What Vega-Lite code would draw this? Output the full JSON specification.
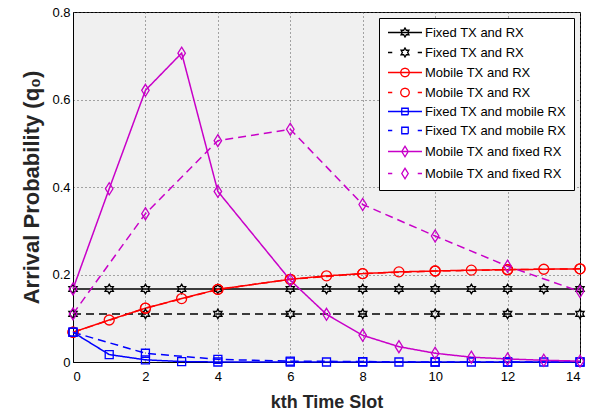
{
  "$schema": "https://vega.github.io/schema/vega-lite/v6.json",
  "width": 507,
  "height": 350,
  "autosize": {"type": "none"},
  "padding": {"left": 73, "top": 12, "right": 20, "bottom": 55},
  "background": "white",
  "config": {
    "view": {"fill": "#f0f0f0", "stroke": "black", "strokeWidth": 1},
    "axis": {
      "domainColor": "black",
      "domainWidth": 1,
      "ticks": false,
      "labelFont": "Liberation Sans",
      "labelFontSize": 13,
      "labelColor": "black",
      "titleFont": "Liberation Sans",
      "titleFontWeight": "bold",
      "titleColor": "#262626",
      "gridColor": "#555555",
      "gridDash": [1, 3],
      "gridWidth": 1,
      "gridOpacity": 1
    }
  },
  "data": {
    "values": [
      {"s": "1 Fixed TX and RX", "g": "Fixed TX and RX", "v": "A", "x": 0, "y": 0.167},
      {"s": "1 Fixed TX and RX", "g": "Fixed TX and RX", "v": "A", "x": 1, "y": 0.167},
      {"s": "1 Fixed TX and RX", "g": "Fixed TX and RX", "v": "A", "x": 2, "y": 0.167},
      {"s": "1 Fixed TX and RX", "g": "Fixed TX and RX", "v": "A", "x": 3, "y": 0.167},
      {"s": "1 Fixed TX and RX", "g": "Fixed TX and RX", "v": "A", "x": 4, "y": 0.167},
      {"s": "1 Fixed TX and RX", "g": "Fixed TX and RX", "v": "A", "x": 6, "y": 0.167},
      {"s": "1 Fixed TX and RX", "g": "Fixed TX and RX", "v": "A", "x": 7, "y": 0.167},
      {"s": "1 Fixed TX and RX", "g": "Fixed TX and RX", "v": "A", "x": 8, "y": 0.167},
      {"s": "1 Fixed TX and RX", "g": "Fixed TX and RX", "v": "A", "x": 9, "y": 0.167},
      {"s": "1 Fixed TX and RX", "g": "Fixed TX and RX", "v": "A", "x": 10, "y": 0.167},
      {"s": "1 Fixed TX and RX", "g": "Fixed TX and RX", "v": "A", "x": 11, "y": 0.167},
      {"s": "1 Fixed TX and RX", "g": "Fixed TX and RX", "v": "A", "x": 12, "y": 0.167},
      {"s": "1 Fixed TX and RX", "g": "Fixed TX and RX", "v": "A", "x": 13, "y": 0.167},
      {"s": "1 Fixed TX and RX", "g": "Fixed TX and RX", "v": "A", "x": 14, "y": 0.167},
      {"s": "2 Fixed TX and RX", "g": "Fixed TX and RX", "v": "B", "x": 0, "y": 0.11},
      {"s": "2 Fixed TX and RX", "g": "Fixed TX and RX", "v": "B", "x": 2, "y": 0.11},
      {"s": "2 Fixed TX and RX", "g": "Fixed TX and RX", "v": "B", "x": 4, "y": 0.11},
      {"s": "2 Fixed TX and RX", "g": "Fixed TX and RX", "v": "B", "x": 6, "y": 0.11},
      {"s": "2 Fixed TX and RX", "g": "Fixed TX and RX", "v": "B", "x": 8, "y": 0.11},
      {"s": "2 Fixed TX and RX", "g": "Fixed TX and RX", "v": "B", "x": 10, "y": 0.11},
      {"s": "2 Fixed TX and RX", "g": "Fixed TX and RX", "v": "B", "x": 12, "y": 0.11},
      {"s": "2 Fixed TX and RX", "g": "Fixed TX and RX", "v": "B", "x": 14, "y": 0.11},
      {"s": "3 Mobile TX and RX", "g": "Mobile TX and RX", "v": "A", "x": 0, "y": 0.068},
      {"s": "3 Mobile TX and RX", "g": "Mobile TX and RX", "v": "A", "x": 1, "y": 0.096},
      {"s": "3 Mobile TX and RX", "g": "Mobile TX and RX", "v": "A", "x": 2, "y": 0.123},
      {"s": "3 Mobile TX and RX", "g": "Mobile TX and RX", "v": "A", "x": 3, "y": 0.145},
      {"s": "3 Mobile TX and RX", "g": "Mobile TX and RX", "v": "A", "x": 4, "y": 0.166},
      {"s": "3 Mobile TX and RX", "g": "Mobile TX and RX", "v": "A", "x": 6, "y": 0.189},
      {"s": "3 Mobile TX and RX", "g": "Mobile TX and RX", "v": "A", "x": 7, "y": 0.197},
      {"s": "3 Mobile TX and RX", "g": "Mobile TX and RX", "v": "A", "x": 8, "y": 0.202},
      {"s": "3 Mobile TX and RX", "g": "Mobile TX and RX", "v": "A", "x": 9, "y": 0.206},
      {"s": "3 Mobile TX and RX", "g": "Mobile TX and RX", "v": "A", "x": 10, "y": 0.208},
      {"s": "3 Mobile TX and RX", "g": "Mobile TX and RX", "v": "A", "x": 11, "y": 0.21},
      {"s": "3 Mobile TX and RX", "g": "Mobile TX and RX", "v": "A", "x": 12, "y": 0.211},
      {"s": "3 Mobile TX and RX", "g": "Mobile TX and RX", "v": "A", "x": 13, "y": 0.212},
      {"s": "3 Mobile TX and RX", "g": "Mobile TX and RX", "v": "A", "x": 14, "y": 0.213},
      {"s": "4 Mobile TX and RX", "g": "Mobile TX and RX", "v": "B", "x": 0, "y": 0.068},
      {"s": "4 Mobile TX and RX", "g": "Mobile TX and RX", "v": "B", "x": 2, "y": 0.123},
      {"s": "4 Mobile TX and RX", "g": "Mobile TX and RX", "v": "B", "x": 4, "y": 0.166},
      {"s": "4 Mobile TX and RX", "g": "Mobile TX and RX", "v": "B", "x": 6, "y": 0.189},
      {"s": "4 Mobile TX and RX", "g": "Mobile TX and RX", "v": "B", "x": 8, "y": 0.202},
      {"s": "4 Mobile TX and RX", "g": "Mobile TX and RX", "v": "B", "x": 10, "y": 0.208},
      {"s": "4 Mobile TX and RX", "g": "Mobile TX and RX", "v": "B", "x": 12, "y": 0.211},
      {"s": "4 Mobile TX and RX", "g": "Mobile TX and RX", "v": "B", "x": 14, "y": 0.213},
      {"s": "5 Fixed TX and mobile RX", "g": "Fixed TX and mobile RX", "v": "A", "x": 0, "y": 0.068},
      {"s": "5 Fixed TX and mobile RX", "g": "Fixed TX and mobile RX", "v": "A", "x": 1, "y": 0.017},
      {"s": "5 Fixed TX and mobile RX", "g": "Fixed TX and mobile RX", "v": "A", "x": 2, "y": 0.005},
      {"s": "5 Fixed TX and mobile RX", "g": "Fixed TX and mobile RX", "v": "A", "x": 3, "y": 0.001},
      {"s": "5 Fixed TX and mobile RX", "g": "Fixed TX and mobile RX", "v": "A", "x": 4, "y": 0.0},
      {"s": "5 Fixed TX and mobile RX", "g": "Fixed TX and mobile RX", "v": "A", "x": 6, "y": 0.0},
      {"s": "5 Fixed TX and mobile RX", "g": "Fixed TX and mobile RX", "v": "A", "x": 7, "y": 0.0},
      {"s": "5 Fixed TX and mobile RX", "g": "Fixed TX and mobile RX", "v": "A", "x": 8, "y": 0.0},
      {"s": "5 Fixed TX and mobile RX", "g": "Fixed TX and mobile RX", "v": "A", "x": 9, "y": 0.0},
      {"s": "5 Fixed TX and mobile RX", "g": "Fixed TX and mobile RX", "v": "A", "x": 10, "y": 0.0},
      {"s": "5 Fixed TX and mobile RX", "g": "Fixed TX and mobile RX", "v": "A", "x": 11, "y": 0.0},
      {"s": "5 Fixed TX and mobile RX", "g": "Fixed TX and mobile RX", "v": "A", "x": 12, "y": 0.0},
      {"s": "5 Fixed TX and mobile RX", "g": "Fixed TX and mobile RX", "v": "A", "x": 13, "y": 0.0},
      {"s": "5 Fixed TX and mobile RX", "g": "Fixed TX and mobile RX", "v": "A", "x": 14, "y": 0.0},
      {"s": "6 Fixed TX and mobile RX", "g": "Fixed TX and mobile RX", "v": "B", "x": 0, "y": 0.068},
      {"s": "6 Fixed TX and mobile RX", "g": "Fixed TX and mobile RX", "v": "B", "x": 2, "y": 0.02},
      {"s": "6 Fixed TX and mobile RX", "g": "Fixed TX and mobile RX", "v": "B", "x": 4, "y": 0.006},
      {"s": "6 Fixed TX and mobile RX", "g": "Fixed TX and mobile RX", "v": "B", "x": 6, "y": 0.002},
      {"s": "6 Fixed TX and mobile RX", "g": "Fixed TX and mobile RX", "v": "B", "x": 8, "y": 0.001},
      {"s": "6 Fixed TX and mobile RX", "g": "Fixed TX and mobile RX", "v": "B", "x": 10, "y": 0.0},
      {"s": "6 Fixed TX and mobile RX", "g": "Fixed TX and mobile RX", "v": "B", "x": 12, "y": 0.0},
      {"s": "6 Fixed TX and mobile RX", "g": "Fixed TX and mobile RX", "v": "B", "x": 14, "y": 0.0},
      {"s": "7 Mobile TX and fixed RX", "g": "Mobile TX and fixed RX", "v": "A", "x": 0, "y": 0.167},
      {"s": "7 Mobile TX and fixed RX", "g": "Mobile TX and fixed RX", "v": "A", "x": 1, "y": 0.396},
      {"s": "7 Mobile TX and fixed RX", "g": "Mobile TX and fixed RX", "v": "A", "x": 2, "y": 0.621},
      {"s": "7 Mobile TX and fixed RX", "g": "Mobile TX and fixed RX", "v": "A", "x": 3, "y": 0.706},
      {"s": "7 Mobile TX and fixed RX", "g": "Mobile TX and fixed RX", "v": "A", "x": 4, "y": 0.39},
      {"s": "7 Mobile TX and fixed RX", "g": "Mobile TX and fixed RX", "v": "A", "x": 6, "y": 0.187},
      {"s": "7 Mobile TX and fixed RX", "g": "Mobile TX and fixed RX", "v": "A", "x": 7, "y": 0.109},
      {"s": "7 Mobile TX and fixed RX", "g": "Mobile TX and fixed RX", "v": "A", "x": 8, "y": 0.061},
      {"s": "7 Mobile TX and fixed RX", "g": "Mobile TX and fixed RX", "v": "A", "x": 9, "y": 0.035},
      {"s": "7 Mobile TX and fixed RX", "g": "Mobile TX and fixed RX", "v": "A", "x": 10, "y": 0.02},
      {"s": "7 Mobile TX and fixed RX", "g": "Mobile TX and fixed RX", "v": "A", "x": 11, "y": 0.011},
      {"s": "7 Mobile TX and fixed RX", "g": "Mobile TX and fixed RX", "v": "A", "x": 12, "y": 0.007},
      {"s": "7 Mobile TX and fixed RX", "g": "Mobile TX and fixed RX", "v": "A", "x": 13, "y": 0.004},
      {"s": "7 Mobile TX and fixed RX", "g": "Mobile TX and fixed RX", "v": "A", "x": 14, "y": 0.002},
      {"s": "8 Mobile TX and fixed RX", "g": "Mobile TX and fixed RX", "v": "B", "x": 0, "y": 0.11},
      {"s": "8 Mobile TX and fixed RX", "g": "Mobile TX and fixed RX", "v": "B", "x": 2, "y": 0.339},
      {"s": "8 Mobile TX and fixed RX", "g": "Mobile TX and fixed RX", "v": "B", "x": 4, "y": 0.506},
      {"s": "8 Mobile TX and fixed RX", "g": "Mobile TX and fixed RX", "v": "B", "x": 6, "y": 0.532},
      {"s": "8 Mobile TX and fixed RX", "g": "Mobile TX and fixed RX", "v": "B", "x": 8, "y": 0.36},
      {"s": "8 Mobile TX and fixed RX", "g": "Mobile TX and fixed RX", "v": "B", "x": 10, "y": 0.288},
      {"s": "8 Mobile TX and fixed RX", "g": "Mobile TX and fixed RX", "v": "B", "x": 12, "y": 0.219},
      {"s": "8 Mobile TX and fixed RX", "g": "Mobile TX and fixed RX", "v": "B", "x": 14, "y": 0.161}
    ]
  },
  "encoding": {
    "x": {
      "field": "x",
      "type": "quantitative",
      "scale": {"domain": [0, 14], "nice": false, "zero": false},
      "axis": {
        "values": [0, 2, 4, 6, 8, 10, 12, 14],
        "title": "kth Time Slot",
        "titleFontSize": 18,
        "labelPadding": 8,
        "titlePadding": 10
      }
    },
    "y": {
      "field": "y",
      "type": "quantitative",
      "scale": {"domain": [0, 0.8], "nice": false},
      "axis": {
        "values": [0, 0.2, 0.4, 0.6, 0.8],
        "format": ".1~f",
        "title": "Arrival Probability (q₀)",
        "titleFontSize": 22,
        "labelPadding": 3,
        "titlePadding": 8
      }
    },
    "color": {
      "field": "s",
      "type": "nominal",
      "scale": {
        "domain": ["1 Fixed TX and RX", "2 Fixed TX and RX", "3 Mobile TX and RX", "4 Mobile TX and RX", "5 Fixed TX and mobile RX", "6 Fixed TX and mobile RX", "7 Mobile TX and fixed RX", "8 Mobile TX and fixed RX"],
        "range": ["#000000", "#000000", "#ff0000", "#ff0000", "#0000ff", "#0000ff", "#c800c8", "#c800c8"]
      },
      "legend": {
        "orient": "none",
        "legendX": 306,
        "legendY": 6,
        "title": null,
        "labelExpr": "substring(datum.label, 2)",
        "labelFont": "Liberation Sans",
        "labelFontSize": 13,
        "labelColor": "black",
        "labelLimit": 0,
        "padding": 8,
        "fillColor": "white",
        "strokeColor": "black",
        "cornerRadius": 0,
        "symbolSize": 100,
        "symbolOffset": 11.5,
        "labelOffset": 13.5,
        "rowPadding": 5,
        "symbolStrokeWidth": 1.3,
        "symbolOpacity": 1,
        "symbolFillColor": "transparent",
        "encode": {
          "symbols": {
            "update": {
              "shape": {"signal": "['M-3.4,0H3.4M0,-0.9L0.26,-0.45L0.78,-0.45L0.52,0L0.78,0.45L0.26,0.45L0,0.9L-0.26,0.45L-0.78,0.45L-0.52,0L-0.78,-0.45L-0.26,-0.45Z','M-3.4,0H-2.55M2.55,0H3.4M0,-0.9L0.26,-0.45L0.78,-0.45L0.52,0L0.78,0.45L0.26,0.45L0,0.9L-0.26,0.45L-0.78,0.45L-0.52,0L-0.78,-0.45L-0.26,-0.45Z','M-3.4,0H3.4M-0.85,0A0.85,0.85,0,1,0,0.85,0A0.85,0.85,0,1,0,-0.85,0Z','M-3.4,0H-2.55M2.55,0H3.4M-0.85,0A0.85,0.85,0,1,0,0.85,0A0.85,0.85,0,1,0,-0.85,0Z','M-3.4,0H3.4M-0.65,-0.65H0.65V0.65H-0.65Z','M-3.4,0H-2.55M2.55,0H3.4M-0.65,-0.65H0.65V0.65H-0.65Z','M-3.4,0H3.4M0,-1.05L0.65,0L0,1.05L-0.65,0Z','M-3.4,0H-2.55M2.55,0H3.4M0,-1.05L0.65,0L0,1.05L-0.65,0Z'][toNumber(substring(datum.value, 0, 1)) - 1]"},
              "fill": {"value": "transparent"},
              "strokeDash": {"value": [1, 0]}
            }
          }
        }
      }
    }
  },
  "layer": [
    {
      "mark": {"type": "line", "strokeWidth": 1.5},
      "encoding": {
        "detail": {"field": "s", "type": "nominal"},
        "strokeDash": {
          "field": "v",
          "type": "nominal",
          "scale": {"domain": ["A", "B"], "range": [[1, 0], [8, 5]]},
          "legend": null
        }
      }
    },
    {
      "mark": {"type": "point", "filled": false, "size": 100, "strokeWidth": 1.3, "opacity": 1},
      "encoding": {
        "shape": {
          "field": "g",
          "type": "nominal",
          "scale": {
            "domain": ["Fixed TX and RX", "Mobile TX and RX", "Fixed TX and mobile RX", "Mobile TX and fixed RX"],
            "range": [
              "M0,-0.95L0.274,-0.475L0.823,-0.475L0.548,0L0.823,0.475L0.274,0.475L0,0.95L-0.274,0.475L-0.823,0.475L-0.548,0L-0.823,-0.475L-0.274,-0.475Z",
              "M-1,0A1,1,0,1,0,1,0A1,1,0,1,0,-1,0Z",
              "M-0.8,-0.8H0.8V0.8H-0.8Z",
              "M0,-1.2L0.75,0L0,1.2L-0.75,0Z"
            ]
          },
          "legend": null
        }
      }
    }
  ]
}
